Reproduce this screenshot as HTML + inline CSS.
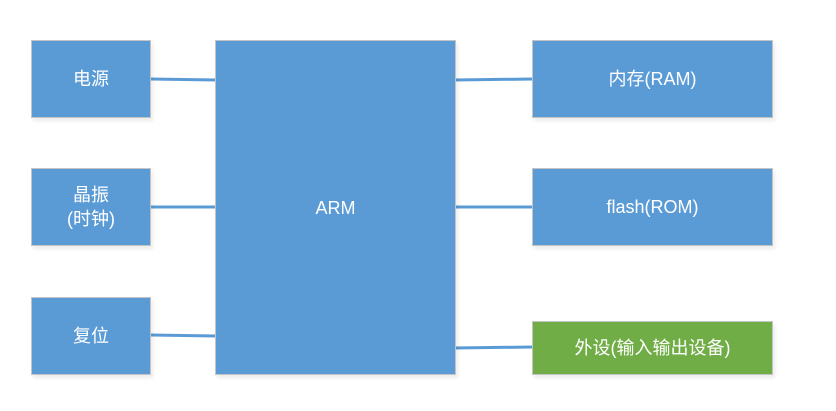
<!DOCTYPE html>
<html><head><meta charset="utf-8"><style>
body{margin:0;width:836px;height:411px;background:#fff;position:relative;overflow:hidden;font-family:"Liberation Sans","Noto Sans CJK SC",sans-serif;}
.b{position:absolute;background:#5B9BD5;border:1px solid #c4c4c4;box-sizing:border-box;color:#fff;display:flex;align-items:center;justify-content:center;text-align:center;font-size:18px;line-height:24px;box-shadow:2px 3px 4px rgba(0,0,0,0.08);}
.g{background:#70AD47;}
svg{position:absolute;left:0;top:0;}
</style></head><body>
<svg width="836" height="411"><g stroke="#5B9BD5" stroke-width="3">
<line x1="150" y1="79" x2="216" y2="80"/>
<line x1="150" y1="207" x2="216" y2="207"/>
<line x1="150" y1="335" x2="216" y2="336"/>
<line x1="454" y1="80" x2="533" y2="79"/>
<line x1="454" y1="207" x2="533" y2="207"/>
<line x1="454" y1="348" x2="533" y2="347"/>
</g></svg>
<div class="b" style="left:31px;top:40px;width:120px;height:78px;">电源</div>
<div class="b" style="left:31px;top:168px;width:120px;height:78px;">晶振<br>(时钟)</div>
<div class="b" style="left:31px;top:297px;width:120px;height:78px;">复位</div>
<div class="b" style="left:215px;top:40px;width:241px;height:335px;">ARM</div>
<div class="b" style="left:532px;top:40px;width:241px;height:78px;">内存(RAM)</div>
<div class="b" style="left:532px;top:168px;width:241px;height:78px;">flash(ROM)</div>
<div class="b g" style="left:532px;top:321px;width:241px;height:54px;">外设(输入输出设备)</div>
</body></html>
